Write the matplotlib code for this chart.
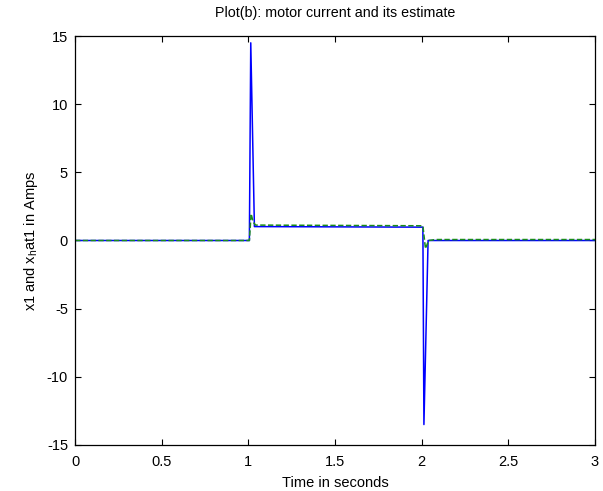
import matplotlib
matplotlib.use("Agg")
import matplotlib.pyplot as plt

# motor current x1 (solid blue)
t_x1 = [0.0, 1.006, 1.014, 1.035, 2.007, 2.013, 2.037, 3.0]
x1 = [0.0, 0.0, 14.5, 1.02, 0.98, -13.5, 0.0, 0.0]

# estimate x_hat1 (dashed green)
t_xhat1 = [0.0, 1.006, 1.016, 1.028, 1.042, 2.007, 2.014, 2.022, 2.04, 2.08, 3.0]
xhat1 = [0.0, 0.0, 1.96, 1.35, 1.13, 1.08, 0.3, -0.6, 0.0, 0.07, 0.07]

xticks = [0, 0.5, 1, 1.5, 2, 2.5, 3]
xticklabels = ["0", "0.5", "1", "1.5", "2", "2.5", "3"]
yticks = [-15, -10, -5, 0, 5, 10, 15]

plt.rcParams["font.family"] = ["Liberation Sans", "DejaVu Sans"]
plt.rcParams["mathtext.fontset"] = "custom"
plt.rcParams["mathtext.rm"] = "Liberation Sans"
plt.rcParams["mathtext.it"] = "Liberation Sans"
plt.rcParams["axes.unicode_minus"] = False

fig = plt.figure(figsize=(6.03, 4.91), dpi=100)
ax = fig.add_axes([75 / 603, 1 - 445 / 491, (595 - 75) / 603, (445 - 36) / 491])

ax.plot(t_x1, x1, color="#0000ff", lw=1.1)
ax.plot(t_xhat1, xhat1, color=(0.1, 0.55, 0.1), lw=1.1, dashes=[3.5, 1.6])

ax.set_xlim(0, 3)
ax.set_ylim(-15, 15)
ax.set_xticks(xticks)
ax.set_xticklabels(xticklabels)
ax.set_yticks(yticks)
ax.set_yticklabels([str(v) for v in yticks])
ax.tick_params(direction="in", length=4.5, width=0.8, labelsize=10.5,
               top=True, right=True)
ax.tick_params(axis="x", pad=7.5)
ax.tick_params(axis="y", pad=5)
for s in ax.spines.values():
    s.set_linewidth(0.9)

ax.set_title("Plot(b): motor current and its estimate", fontsize=10.3, pad=14)
ax.set_xlabel("Time in seconds", fontsize=10.5, labelpad=5)
ax.set_ylabel(r"x1 and x$_{\mathrm{h}}$at1 in Amps", fontsize=10.5, labelpad=5)

fig.savefig("out.png", dpi=100)
